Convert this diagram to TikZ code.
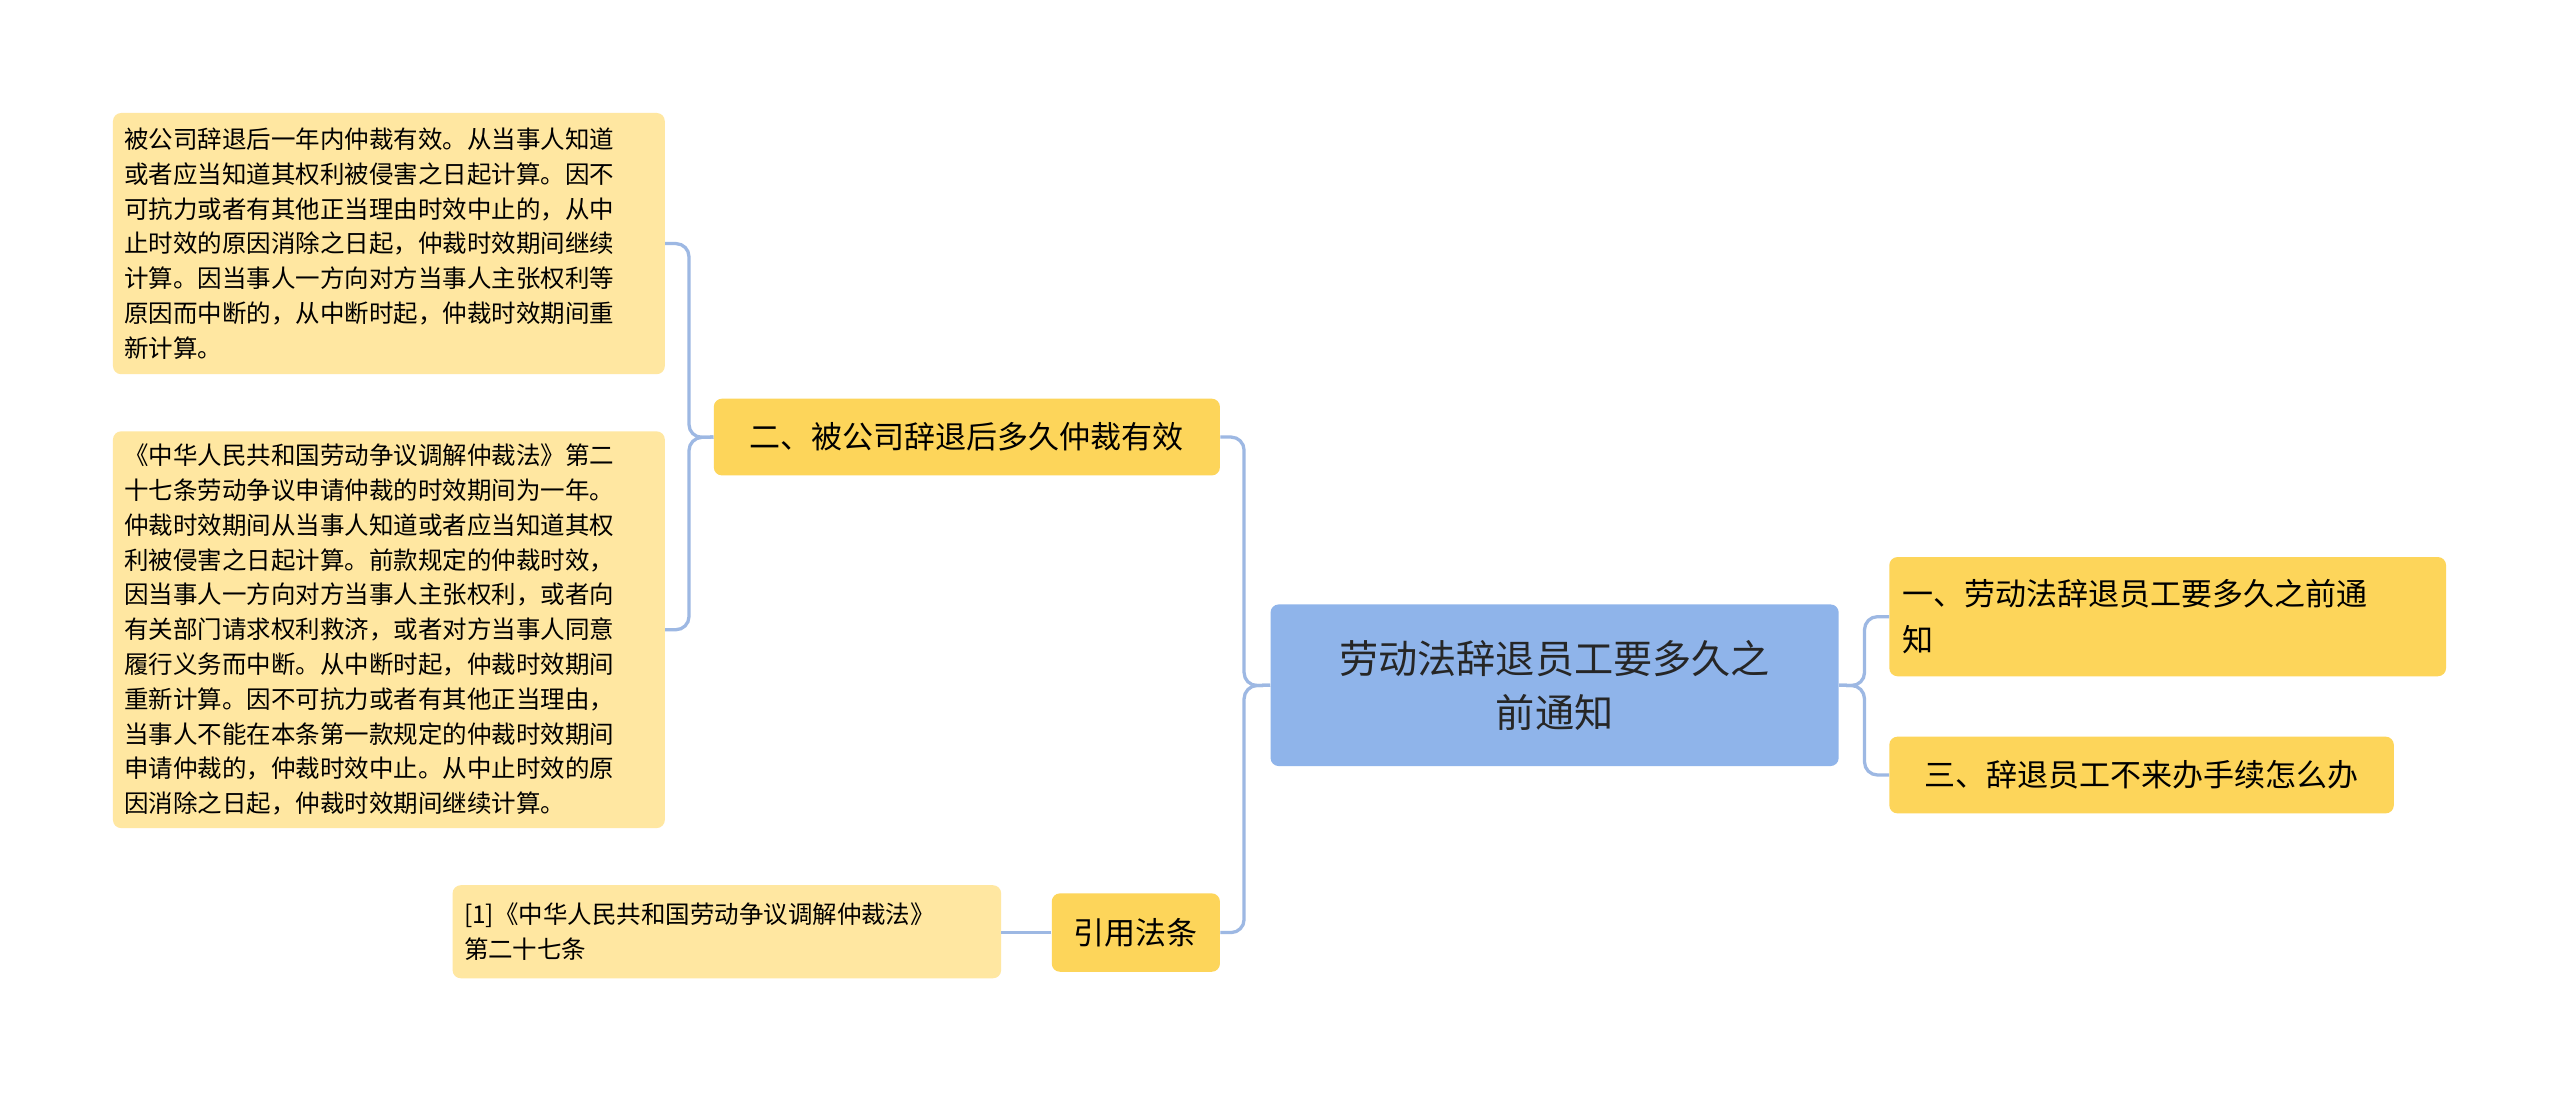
\documentclass[tikz,border=0pt]{standalone}
\usepackage{fontspec}
\setmainfont{Noto Sans CJK SC}
\begin{document}
\begin{tikzpicture}[x=1pt,y=-1pt,
  box/.style={rounded corners=5pt,inner sep=0pt,anchor=north west},
  conn/.style={draw=lineblue,line width=2pt,rounded corners=8pt}]
\definecolor{lineblue}{HTML}{9DB8E3}
\definecolor{cent}{HTML}{8FB4EA}
\definecolor{yel}{HTML}{FDD55A}
\definecolor{leaf}{HTML}{FFE7A1}
\useasboundingbox[fill=white] (0,0) rectangle (1568,669);
% central
\node[box,fill=cent,minimum width=348pt,minimum height=99pt,align=center,font=\fontsize{24}{33}\selectfont,text=black!85] (c) at (778,370) {劳动法辞退员工要多久之\\前通知};
% right
\node[box,fill=yel,minimum width=341pt,minimum height=73pt,align=left,font=\fontsize{19}{28}\selectfont,text width=325pt,inner xsep=8pt] (r1) at (1157,341) {一、劳动法辞退员工要多久之前通\\知};
\node[box,fill=yel,minimum width=309pt,minimum height=47pt,font=\fontsize{19}{24}\selectfont] (r2) at (1157,451) {三、辞退员工不来办手续怎么办};
% left
\node[box,fill=yel,minimum width=310pt,minimum height=47pt,font=\fontsize{19}{24}\selectfont] (l1) at (437,244) {二、被公司辞退后多久仲裁有效};
\node[box,fill=yel,minimum width=103pt,minimum height=48pt,font=\fontsize{19}{24}\selectfont] (l2) at (644,547) {引用法条};
% leaves
\node[box,fill=leaf,minimum width=338pt,minimum height=160pt,align=left,font=\fontsize{15}{21.3}\selectfont,text width=324pt,inner xsep=7pt] (a1) at (69,69) {被公司辞退后一年内仲裁有效。从当事人知道\\或者应当知道其权利被侵害之日起计算。因不\\可抗力或者有其他正当理由时效中止的，从中\\止时效的原因消除之日起，仲裁时效期间继续\\计算。因当事人一方向对方当事人主张权利等\\原因而中断的，从中断时起，仲裁时效期间重\\新计算。};
\node[box,fill=leaf,minimum width=338pt,minimum height=243pt,align=left,font=\fontsize{15}{21.3}\selectfont,text width=324pt,inner xsep=7pt] (a2) at (69,264) {《中华人民共和国劳动争议调解仲裁法》第二\\十七条劳动争议申请仲裁的时效期间为一年。\\仲裁时效期间从当事人知道或者应当知道其权\\利被侵害之日起计算。前款规定的仲裁时效，\\因当事人一方向对方当事人主张权利，或者向\\有关部门请求权利救济，或者对方当事人同意\\履行义务而中断。从中断时起，仲裁时效期间\\重新计算。因不可抗力或者有其他正当理由，\\当事人不能在本条第一款规定的仲裁时效期间\\申请仲裁的，仲裁时效中止。从中止时效的原\\因消除之日起，仲裁时效期间继续计算。};
\node[box,fill=leaf,minimum width=336pt,minimum height=57pt,align=left,font=\fontsize{15}{21.3}\selectfont,text width=322pt,inner xsep=7pt] (a3) at (277,542) {[1]《中华人民共和国劳动争议调解仲裁法》\\第二十七条};
% connectors
\draw[conn] (c.west) -- (762,420) |- (l1.east);
\draw[conn] (c.west) -- (762,420) |- (l2.east);
\draw[conn] (c.east) -- (1142,420) |- (r1.west);
\draw[conn] (c.east) -- (1142,420) |- (r2.west);
\draw[conn] (l1.west) -- (422,268) |- (a1.east);
\draw[conn] (l1.west) -- (422,268) |- (a2.east);
\draw[conn] (l2.west) -- (a3.east |- l2.west);
\end{tikzpicture}
\end{document}
